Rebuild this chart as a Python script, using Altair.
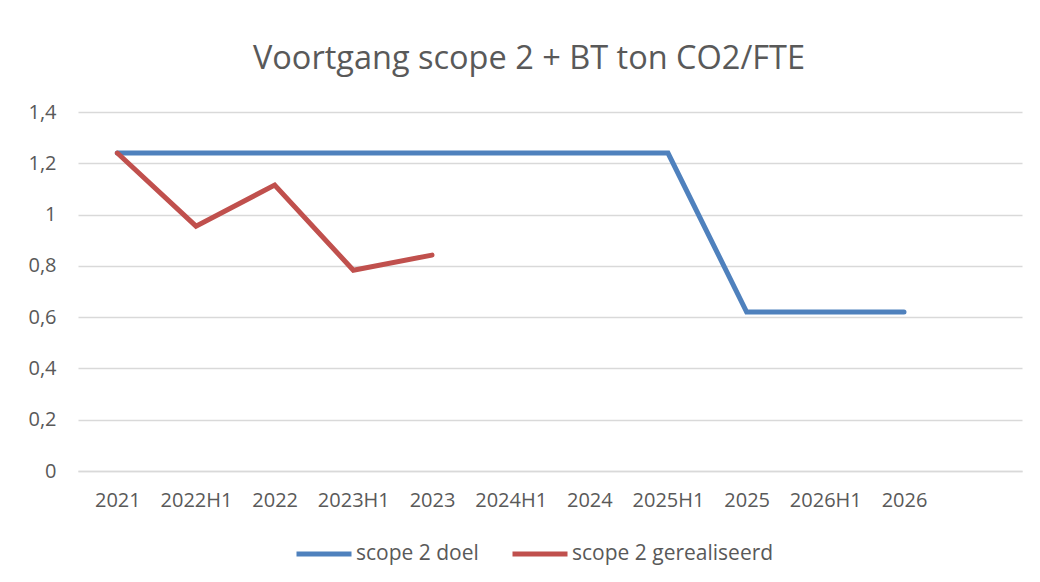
import altair as alt
import pandas as pd

categories = ["2021", "2022H1", "2022", "2023H1", "2023", "2024H1", "2024",
              "2025H1", "2025", "2026H1", "2026"]
axis_domain = categories + [" "]
doel = [1.24, 1.24, 1.24, 1.24, 1.24, 1.24, 1.24, 1.24, 0.62, 0.62, 0.62]
gerealiseerd = [1.24, 0.955, 1.115, 0.783, 0.842]

rows = []
for c, v in zip(categories, doel):
    rows.append({"periode": c, "waarde": v, "reeks": "scope 2 doel"})
for c, v in zip(categories, gerealiseerd):
    rows.append({"periode": c, "waarde": v, "reeks": "scope 2 gerealiseerd"})
df = pd.DataFrame(rows)

FONT = "Open Sans"
TXT = "#595959"

chart = alt.Chart(df).mark_line(strokeWidth=5, strokeCap="round", strokeJoin="miter").encode(
    x=alt.X("periode:N", sort=axis_domain,
            scale=alt.Scale(type="point", domain=axis_domain, padding=0.5),
            axis=alt.Axis(title=None, labelAngle=0, ticks=False, domain=True,
                          domainColor="#D9D9D9", domainWidth=1.5, grid=False,
                          labelFontSize=20, labelColor=TXT, labelFont=FONT,
                          labelPadding=19)),
    y=alt.Y("waarde:Q",
            scale=alt.Scale(domain=[0, 1.4], nice=False),
            axis=alt.Axis(title=None, values=[0, 0.2, 0.4, 0.6, 0.8, 1.0, 1.2, 1.4],
                          labelExpr="replace(format(datum.value, ''), '.', ',')",
                          ticks=False, domain=False, gridColor="#D9D9D9", gridWidth=1.5,
                          labelFontSize=20, labelColor=TXT, labelFont=FONT,
                          labelPadding=22)),
    color=alt.Color("reeks:N",
                    scale=alt.Scale(domain=["scope 2 doel", "scope 2 gerealiseerd"],
                                    range=["#4F81BD", "#C0504D"]),
                    legend=alt.Legend(title=None, orient="none", direction="horizontal",
                                      legendX=216, legendY=412,
                                      symbolType="stroke", symbolSize=3025,
                                      symbolStrokeWidth=5, labelOffset=2,
                                      labelFontSize=21, labelColor=TXT, labelFont=FONT,
                                      labelLimit=400, columnPadding=23)),
).properties(
    width=944, height=359,
    title=alt.Title("Voortgang scope 2 + BT ton CO2/FTE", fontSize=32.5, font=FONT,
                    color=TXT, fontWeight="normal", offset=27, anchor="middle", dx=-21),
    autosize=alt.AutoSizeParams(type="none"),
    padding={"left": 70, "top": 104, "right": 10, "bottom": 103},
).configure_view(stroke=None)

chart.save("out.html", embed_options={"renderer": "svg", "actions": False})
